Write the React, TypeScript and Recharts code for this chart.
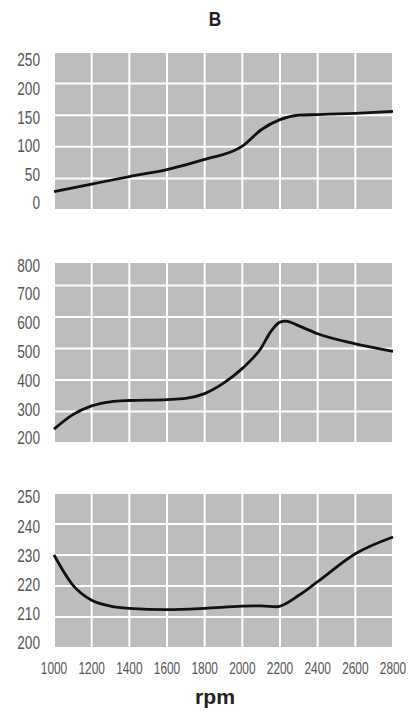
import { LineChart, Line, XAxis, YAxis, CartesianGrid } from "recharts";

// shared x axis (engine speed)
const rpmTicks = [1000, 1200, 1400, 1600, 1800, 2000, 2200, 2400, 2600, 2800];

// top panel
const powerRpm = [1000, 1200, 1400, 1600, 1800, 2000, 2100, 2200, 2300, 2400, 2600, 2800];
const powerValues = [29, 41, 53, 64, 80, 101, 127, 143, 150, 151, 153, 156];
const powerTicks = [0, 50, 100, 150, 200, 250];

// middle panel
const torqueRpm = [1000, 1100, 1200, 1300, 1400, 1600, 1700, 1800, 1900, 2000, 2100, 2150, 2200, 2230, 2300, 2400, 2600, 2800];
const torqueValues = [244, 290, 318, 331, 335, 338, 342, 357, 390, 437, 502, 553, 584, 587, 572, 547, 515, 491];
const torqueTicks = [200, 300, 400, 500, 600, 700, 800];

// bottom panel
const fuelRpm = [1000, 1100, 1200, 1300, 1400, 1600, 1800, 2000, 2100, 2180, 2300, 2400, 2600, 2800];
const fuelValues = [230, 220.3, 215.4, 213.5, 212.8, 212.4, 212.8, 213.5, 213.6, 213.3, 217, 221.4, 230.4, 235.8];
const fuelTicks = [200, 210, 220, 230, 240, 250];

const FONT = '"Liberation Sans", Arial, sans-serif';
const LABEL_COLOR = "#555555";
const GRID_FILL = "#bdbdbf";

function toRows(rpm: number[], values: number[]) {
  return rpm.map((r, i) => ({ rpm: r, value: values[i] }));
}

// the printed labels sit a little closer together than the grid lines,
// and the face is a condensed one, so squeeze the glyphs
function makeYTick(shift: number, spread: number, count: number) {
  return function YTick(props: any) {
    const { x, y, payload, index } = props;
    const mid = (count - 1) / 2;
    const label = String(payload.value);
    return (
      <text
        x={x}
        y={y + shift + spread * (index - mid)}
        dy="0.36em"
        textAnchor="end"
        fill={LABEL_COLOR}
        fontSize={18}
        fontFamily={FONT}
        textLength={label.length * 7.6}
        lengthAdjust="spacingAndGlyphs"
      >
        {label}
      </text>
    );
  };
}

function XTick(props: any) {
  const { x, y, payload } = props;
  const label = String(payload.value);
  return (
    <text
      x={x}
      y={y}
      dy="0.71em"
      textAnchor="middle"
      fill={LABEL_COLOR}
      fontSize={17}
      fontFamily={FONT}
      textLength={label.length * 6.6}
      lengthAdjust="spacingAndGlyphs"
    >
      {label}
    </text>
  );
}

interface PanelProps {
  top: number;
  height: number;
  marginTop: number;
  marginBottom: number;
  data: { rpm: number; value: number }[];
  yDomain: [number, number];
  yTicks: number[];
  tickShift: number;
  tickSpread: number;
  showX?: boolean;
}

function Panel({
  top,
  height,
  marginTop,
  marginBottom,
  data,
  yDomain,
  yTicks,
  tickShift,
  tickSpread,
  showX = false,
}: PanelProps) {
  return (
    <div style={{ position: "absolute", left: 0, top }}>
      <LineChart
        width={413}
        height={height}
        data={data}
        margin={{ top: marginTop, right: 20, bottom: marginBottom, left: 0 }}
      >
        <CartesianGrid stroke="#ffffff" strokeWidth={2} fill={GRID_FILL} fillOpacity={1} />
        <XAxis
          type="number"
          dataKey="rpm"
          domain={[1000, 2800]}
          ticks={rpmTicks}
          interval={0}
          hide={!showX}
          axisLine={false}
          tickLine={false}
          tickMargin={8}
          height={30}
          tick={<XTick />}
        />
        <YAxis
          type="number"
          domain={yDomain}
          ticks={yTicks}
          interval={0}
          allowDataOverflow
          width={54}
          axisLine={false}
          tickLine={false}
          tickMargin={8}
          tick={makeYTick(tickShift, tickSpread, yTicks.length)}
        />
        <Line
          type="monotone"
          dataKey="value"
          stroke="#111111"
          strokeWidth={2.8}
          dot={false}
          isAnimationActive={false}
        />
      </LineChart>
    </div>
  );
}

export default function App() {
  return (
    <div style={{ position: "absolute", left: 0, top: 0, width: 413, height: 714, background: "#fff" }}>
      <Panel
        top={0}
        height={220}
        marginTop={52}
        marginBottom={10}
        data={toRows(powerRpm, powerValues)}
        yDomain={[0, 250]}
        yTicks={powerTicks}
        tickShift={0.5}
        tickSpread={3}
      />
      <Panel
        top={240}
        height={220}
        marginTop={22}
        marginBottom={17}
        data={toRows(torqueRpm, torqueValues)}
        yDomain={[200, 775]}
        yTicks={torqueTicks}
        tickShift={3}
        tickSpread={2.7}
      />
      <Panel
        top={470}
        height={244}
        marginTop={23}
        marginBottom={36}
        data={toRows(fuelRpm, fuelValues)}
        yDomain={[200, 250]}
        yTicks={fuelTicks}
        tickShift={-0.5}
        tickSpread={1.8}
        showX
      />
      <svg
        width={413}
        height={714}
        style={{ position: "absolute", left: 0, top: 0, pointerEvents: "none" }}
      >
        <text
          x={215}
          y={26}
          textAnchor="middle"
          fontSize={21}
          fontWeight="bold"
          fontFamily={FONT}
          fill="#222"
          textLength={12.5}
          lengthAdjust="spacingAndGlyphs"
        >
          B
        </text>
        <text
          x={215}
          y={704}
          textAnchor="middle"
          fontSize={21}
          fontWeight="bold"
          fontFamily={FONT}
          fill="#222"
          textLength={40}
          lengthAdjust="spacingAndGlyphs"
        >
          rpm
        </text>
      </svg>
    </div>
  );
}
